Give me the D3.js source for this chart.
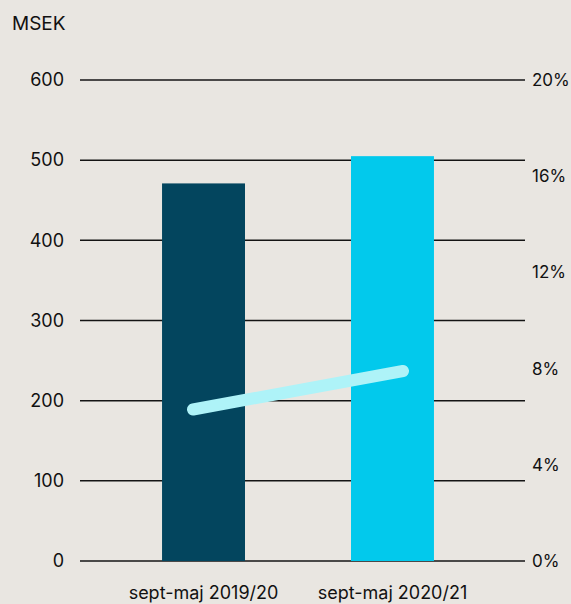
<!DOCTYPE html>
<html>
<head>
<meta charset="utf-8">
<script src="https://cdn.jsdelivr.net/npm/d3@7"></script>
<style>
  html, body { margin: 0; padding: 0; background: #e9e6e1; }
  svg { display: block; font-family: Inter, "Noto Sans", sans-serif; }
</style>
</head>
<body>
<div id="wrapper"></div>
<script>
// data
const categories = ["sept-maj 2019/20", "sept-maj 2020/21"];
const salesMsek = [471, 505];
const marginPct = [6.3, 7.9];
const leftTicks = [0, 100, 200, 300, 400, 500, 600];
const rightTicks = [0, 4, 8, 12, 16, 20];
const barColors = ["#03455e", "#02c9ec"];

const width = 571, height = 604;
const plot = { left: 80, right: 525, top: 80, bottom: 561 };

const svg = d3.select("#wrapper").append("svg")
    .attr("width", width)
    .attr("height", height);

const x = d3.scaleBand()
    .domain(categories)
    .range([plot.left, plot.right])
    .paddingInner(0.561)
    .paddingOuter(0.458)
    .align(0.474);

const y = d3.scaleLinear().domain([0, 600]).range([plot.bottom, plot.top]);
const yPct = d3.scaleLinear().domain([0, 20]).range([plot.bottom, plot.top]);

// line endpoints sit a bit inside the bar centres
const mid = (x(categories[0]) + x(categories[1]) + x.bandwidth()) / 2;
const xLine = d3.scalePoint().domain(categories).range([mid - 105, mid + 105]);

// unit label
svg.append("text")
    .attr("x", 12)
    .attr("y", 30)
    .style("font-size", "19px")
    .attr("fill", "#111")
    .text("MSEK");

// grid lines
svg.append("g")
    .selectAll("line")
    .data(leftTicks)
    .join("line")
    .attr("x1", plot.left)
    .attr("x2", plot.right)
    .attr("y1", d => y(d))
    .attr("y2", d => y(d))
    .attr("stroke", "#141414")
    .attr("stroke-width", 1.5);

// left axis
svg.append("g")
    .selectAll("text")
    .data(leftTicks)
    .join("text")
    .attr("x", 64)
    .attr("y", d => y(d))
    .attr("dy", "0.35em")
    .attr("text-anchor", "end")
    .style("font-size", "18px")
    .attr("fill", "#111")
    .text(d => d);

// right axis
svg.append("g")
    .selectAll("text")
    .data(rightTicks)
    .join("text")
    .attr("x", 532)
    .attr("y", d => yPct(d))
    .attr("dy", "0.35em")
    .style("font-size", "17px")
    .attr("fill", "#111")
    .text(d => d + "%");

// bars
svg.append("g")
    .selectAll("rect")
    .data(categories)
    .join("rect")
    .attr("x", d => x(d))
    .attr("width", x.bandwidth())
    .attr("y", (d, i) => y(salesMsek[i]))
    .attr("height", (d, i) => y(0) - y(salesMsek[i]))
    .attr("fill", (d, i) => barColors[i]);

// category labels
svg.append("g")
    .selectAll("text")
    .data(categories)
    .join("text")
    .attr("x", d => x(d) + x.bandwidth() / 2)
    .attr("y", 599)
    .attr("text-anchor", "middle")
    .style("font-size", "18px")
    .attr("fill", "#111")
    .text(d => d);

// margin line
const line = d3.line()
    .x((d, i) => xLine(categories[i]))
    .y(d => yPct(d));

svg.append("path")
    .attr("d", line(marginPct))
    .attr("fill", "none")
    .attr("stroke", "#aef3f8")
    .attr("stroke-width", 12)
    .attr("stroke-linecap", "round");
</script>
</body>
</html>
